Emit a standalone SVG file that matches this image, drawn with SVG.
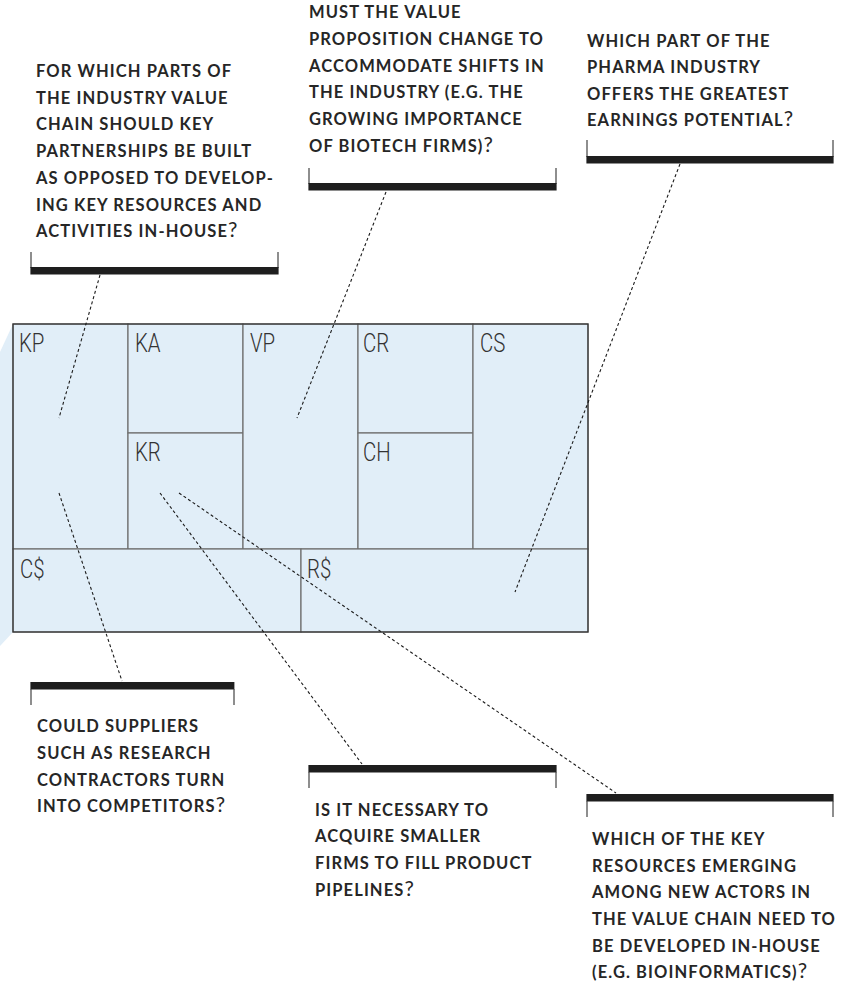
<svg xmlns="http://www.w3.org/2000/svg" width="851" height="981" viewBox="0 0 851 981">
<style>
.bg{fill:#ffffff}
.cell{fill:#e1eef8;stroke:#6e6e6e;stroke-width:1.2}
.outer{fill:none;stroke:#333333;stroke-width:1.2}
.lbl{font-family:Roboto,"Liberation Sans",sans-serif;font-weight:300;font-size:25.5px;fill:#333333}
.q{font-family:Lato,"Open Sans","Liberation Sans",sans-serif;font-weight:700;font-size:16.5px;letter-spacing:1.1px;fill:#262626}
.qm{font-size:21px;font-weight:400;letter-spacing:0}
.bar{fill:#1e1e1e}
.tick{stroke:#444444;stroke-width:1.2;fill:none}
.dash{stroke:#1a1a1a;stroke-width:1.1;stroke-dasharray:3 2.5;fill:none}
</style>
<rect class="bg" x="0" y="0" width="851" height="981"/>

<g id="canvas">
  <polygon points="13,324 0,352 0,646 13,632" fill="#e1eef8"/>
  <g id="cell-kp"><rect class="cell" x="13" y="324" width="115" height="225"/><text class="lbl" transform="translate(19,352) scale(0.8,1)">KP</text></g>
  <g id="cell-ka"><rect class="cell" x="128" y="324" width="115" height="109"/><text class="lbl" transform="translate(135,352) scale(0.8,1)">KA</text></g>
  <g id="cell-kr"><rect class="cell" x="128" y="433" width="115" height="116"/><text class="lbl" transform="translate(135,461) scale(0.8,1)">KR</text></g>
  <g id="cell-vp"><rect class="cell" x="243" y="324" width="115" height="225"/><text class="lbl" transform="translate(250,352) scale(0.8,1)">VP</text></g>
  <g id="cell-cr"><rect class="cell" x="358" y="324" width="115" height="109"/><text class="lbl" transform="translate(363,352) scale(0.8,1)">CR</text></g>
  <g id="cell-ch"><rect class="cell" x="358" y="433" width="115" height="116"/><text class="lbl" transform="translate(363,461) scale(0.8,1)">CH</text></g>
  <g id="cell-cs"><rect class="cell" x="473" y="324" width="115" height="225"/><text class="lbl" transform="translate(480,352) scale(0.8,1)">CS</text></g>
  <g id="cell-cost"><rect class="cell" x="13" y="549" width="288" height="83"/><text class="lbl" transform="translate(20,578) scale(0.8,1)">C$</text></g>
  <g id="cell-rev"><rect class="cell" x="301" y="549" width="287" height="83"/><text class="lbl" transform="translate(307,578) scale(0.8,1)">R$</text></g>
  <rect class="outer" x="13" y="324" width="575" height="308"/>
</g>

<g id="connectors">
  <line class="dash" x1="100" y1="275" x2="59" y2="418"/>
  <line class="dash" x1="386" y1="192" x2="297" y2="418"/>
  <line class="dash" x1="680" y1="164" x2="515" y2="592"/>
  <line class="dash" x1="59" y1="493" x2="122" y2="681"/>
  <line class="dash" x1="160" y1="493" x2="362" y2="764"/>
  <line class="dash" x1="179" y1="493" x2="616" y2="793"/>
</g>

<g id="q-partnerships">
  <text class="q" x="36" y="77">FOR WHICH PARTS OF</text>
  <text class="q" x="36" y="103.7">THE INDUSTRY VALUE</text>
  <text class="q" x="36" y="130.4">CHAIN SHOULD KEY</text>
  <text class="q" x="36" y="157.1">PARTNERSHIPS BE BUILT</text>
  <text class="q" x="36" y="183.8">AS OPPOSED TO DEVELOP-</text>
  <text class="q" x="36" y="210.5">ING KEY RESOURCES AND</text>
  <text class="q" x="36" y="237">ACTIVITIES IN-HOUSE<tspan class="qm">?</tspan></text>
  <path class="tick" d="M31,252V268M278,252V268"/>
  <rect class="bar" x="30.4" y="267" width="248.2" height="7.5"/>
</g>

<g id="q-value-prop">
  <text class="q" x="309" y="18.3">MUST THE VALUE</text>
  <text class="q" x="309" y="45">PROPOSITION CHANGE TO</text>
  <text class="q" x="309" y="71.7">ACCOMMODATE SHIFTS IN</text>
  <text class="q" x="309" y="98.4">THE INDUSTRY (E.G. THE</text>
  <text class="q" x="309" y="125.1">GROWING IMPORTANCE</text>
  <text class="q" x="309" y="151.8">OF BIOTECH FIRMS)<tspan class="qm">?</tspan></text>
  <path class="tick" d="M309,168V184M556,168V184"/>
  <rect class="bar" x="308.4" y="183" width="248.2" height="7.5"/>
</g>

<g id="q-earnings">
  <text class="q" x="587" y="46.5">WHICH PART OF THE</text>
  <text class="q" x="587" y="73">PHARMA INDUSTRY</text>
  <text class="q" x="587" y="99.5">OFFERS THE GREATEST</text>
  <text class="q" x="587" y="126">EARNINGS POTENTIAL<tspan class="qm">?</tspan></text>
  <path class="tick" d="M587,140V157M833,140V157"/>
  <rect class="bar" x="586.4" y="156" width="247.2" height="7.5"/>
</g>

<g id="q-suppliers">
  <rect class="bar" x="30.4" y="682" width="204" height="7.5"/>
  <path class="tick" d="M31,689V705M234,689V705"/>
  <text class="q" x="37" y="732.3">COULD SUPPLIERS</text>
  <text class="q" x="37" y="759">SUCH AS RESEARCH</text>
  <text class="q" x="37" y="785.7">CONTRACTORS TURN</text>
  <text class="q" x="37" y="812.4">INTO COMPETITORS<tspan class="qm">?</tspan></text>
</g>

<g id="q-acquire">
  <rect class="bar" x="308.4" y="765" width="248.2" height="7.5"/>
  <path class="tick" d="M309,772V788M556,772V788"/>
  <text class="q" x="315" y="815.7">IS IT NECESSARY TO</text>
  <text class="q" x="315" y="842.4">ACQUIRE SMALLER</text>
  <text class="q" x="315" y="869.1">FIRMS TO FILL PRODUCT</text>
  <text class="q" x="315" y="895.8">PIPELINES<tspan class="qm">?</tspan></text>
</g>

<g id="q-resources">
  <rect class="bar" x="586.4" y="794" width="247.2" height="7.5"/>
  <path class="tick" d="M587,801V817M833,801V817"/>
  <text class="q" x="592" y="845">WHICH OF THE KEY</text>
  <text class="q" x="592" y="871.7">RESOURCES EMERGING</text>
  <text class="q" x="592" y="898.4">AMONG NEW ACTORS IN</text>
  <text class="q" x="592" y="925.1">THE VALUE CHAIN NEED TO</text>
  <text class="q" x="592" y="951.8">BE DEVELOPED IN-HOUSE</text>
  <text class="q" x="592" y="978.3">(E.G. BIOINFORMATICS)<tspan class="qm">?</tspan></text>
</g>
</svg>
